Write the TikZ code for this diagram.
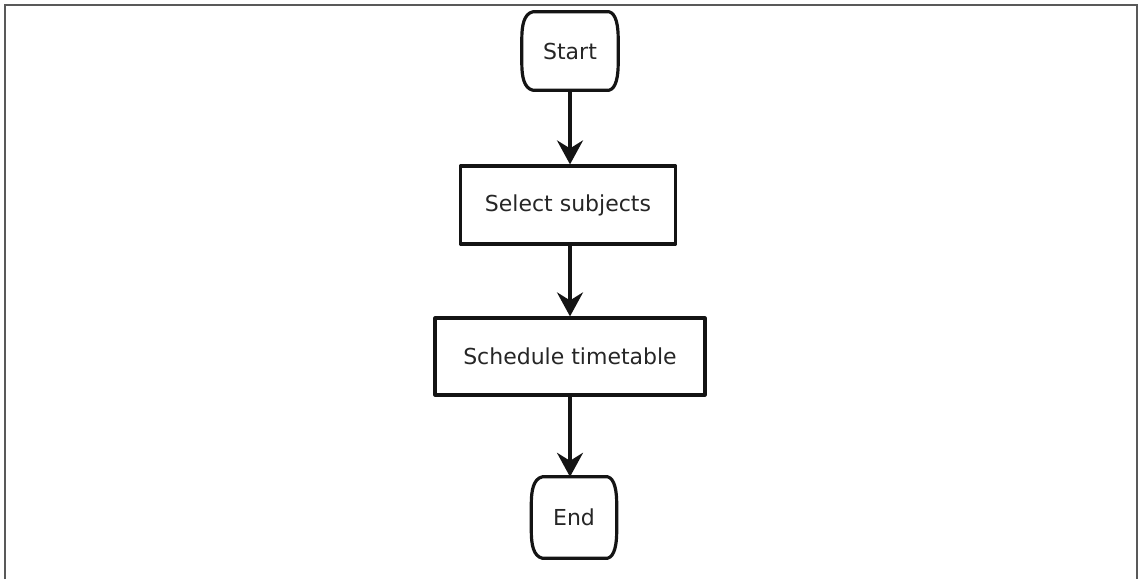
\documentclass[tikz,border=0pt]{standalone}
\usepackage{fontspec}
\setmainfont{DejaVu Sans}
\usetikzlibrary{arrows.meta}

% terminator outline: flat top and bottom, softly bulging sides
\newcommand\termoutline[1]{%
  \draw[boxline]
    ([xshift=11pt]#1.north west) -- ([xshift=-9pt]#1.north east)
    .. controls ([xshift=-2pt,yshift=-2pt]#1.north east) and ([yshift=-14pt]#1.north east) .. ([yshift=-27pt]#1.north east)
    -- ([yshift=27pt]#1.south east)
    .. controls ([yshift=14pt]#1.south east) and ([xshift=-2pt,yshift=2pt]#1.south east) .. ([xshift=-9pt]#1.south east)
    -- ([xshift=11pt]#1.south west)
    .. controls ([xshift=2pt,yshift=2pt]#1.south west) and ([yshift=14pt]#1.south west) .. ([yshift=27pt]#1.south west)
    -- ([yshift=-27pt]#1.north west)
    .. controls ([yshift=-14pt]#1.north west) and ([xshift=2pt,yshift=-2pt]#1.north west) .. cycle;}

\tikzset{
  boxline/.style={line width=3.2pt, draw=black!92, line join=round},
  term/.style={rectangle, draw=none, inner sep=0pt, text=black!85, font=\fontsize{22}{26}\selectfont},
  process/.style={rectangle, boxline, fill=white, inner sep=0pt, text=black!85, font=\fontsize{22}{26}\selectfont},
  flow/.style={line width=3.2pt, draw=black!92, -{Stealth[length=24pt,width=26pt,inset=8pt]}},
  frame/.style={line width=1.4pt, draw=black!65}
}

\begin{document}
\begin{tikzpicture}[x=1pt,y=-1pt]
  \useasboundingbox (0,0) rectangle (1139,579);
  \fill[white] (0,0) rectangle (1139,579);

  % page frame, open at the bottom
  \draw[frame] (5,579) -- (5,5) -- (1137,5) -- (1137,579);

  \node[term, minimum width=96pt, minimum height=78pt] (start) at (570,51) {Start};
  \node[process, minimum width=215pt, minimum height=78pt] (select) at (568,205) {Select subjects};
  \node[process, minimum width=270pt, minimum height=77pt] (schedule) at (570,356.5) {Schedule timetable};
  \node[term, minimum width=85pt, minimum height=81pt] (end) at (574,517.5) {End};

  \termoutline{start}
  \termoutline{end}

  \draw[flow] (start.south) -- (start.south |- select.north);
  \draw[flow] (start.south |- select.south) -- (start.south |- schedule.north);
  \draw[flow] (schedule.south) -- (schedule.south |- end.north);
\end{tikzpicture}
\end{document}
